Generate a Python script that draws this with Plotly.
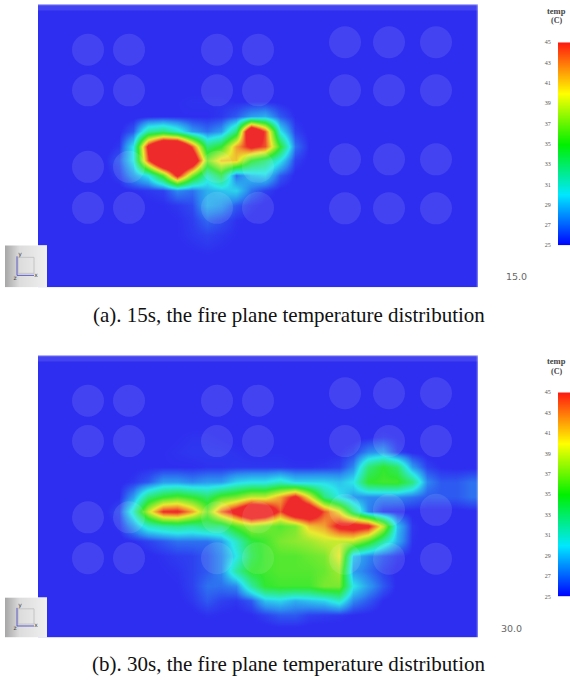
import plotly.graph_objects as go

W, H = 570, 680

# Values above 45 sit in the clipped red zone of the scale.
temp_15s = [
 [25.4]*30,
 [25.4]*30,
 [25.4]*30,
 [25.4]*30,
 [25.4]*30,
 [25.4,25.4,25.4,25.4,25.4,25.4,25.4,25.4,25.4,25.5,25.5,25.5,25.5,25.4,25.4,25.4,25.4,25.4,25.4,25.4,25.4,25.4,25.4,25.4,25.4,25.4,25.4,25.4,25.4,25.4],
 [25.4,25.4,25.4,25.4,25.4,25.4,25.4,25.4,25.5,25.6,25.7,25.7,25.7,25.6,25.6,25.6,25.5,25.4,25.4,25.4,25.4,25.4,25.4,25.4,25.4,25.4,25.4,25.4,25.4,25.4],
 [25.4,25.4,25.4,25.4,25.4,25.4,25.4,25.5,25.6,25.6,25.6,25.6,25.8,26.5,28.0,28.5,26.5,25.6,25.4,25.4,25.4,25.4,25.4,25.4,25.4,25.4,25.4,25.4,25.4,25.4],
 [25.4,25.4,25.4,25.4,25.4,25.5,26.5,32.0,33.0,31.0,28.0,27.0,28.0,33.0,52.0,44.0,30.0,26.0,25.5,25.4,25.4,25.4,25.4,25.4,25.4,25.4,25.4,25.4,25.4,25.4],
 [25.4,25.4,25.4,25.4,25.4,25.8,30.0,46.0,54.0,54.0,44.0,33.0,35.0,42.0,46.0,44.0,35.0,27.0,25.6,25.4,25.4,25.4,25.4,25.4,25.4,25.4,25.4,25.4,25.4,25.4],
 [25.4,25.4,25.4,25.4,25.5,26.5,30.0,44.0,54.0,54.0,50.0,37.0,41.0,41.0,35.0,33.0,30.0,26.0,25.5,25.4,25.4,25.4,25.4,25.4,25.4,25.4,25.4,25.4,25.4,25.4],
 [25.4,25.4,25.4,25.4,25.4,26.0,28.0,30.0,36.0,46.0,37.0,31.0,34.0,27.0,29.0,29.5,26.5,25.5,25.4,25.4,25.4,25.4,25.4,25.4,25.4,25.4,25.4,25.4,25.4,25.4],
 [25.4,25.4,25.4,25.4,25.4,25.4,25.6,25.8,26.0,27.5,27.0,28.5,29.0,29.5,27.0,26.0,25.5,25.4,25.4,25.4,25.4,25.4,25.4,25.4,25.4,25.4,25.4,25.4,25.4,25.4],
 [25.4,25.4,25.4,25.4,25.4,25.4,25.4,25.5,25.6,25.8,26.2,28.5,28.0,26.5,25.8,25.5,25.4,25.4,25.4,25.4,25.4,25.4,25.4,25.4,25.4,25.4,25.4,25.4,25.4,25.4],
 [25.4,25.4,25.4,25.4,25.4,25.4,25.4,25.4,25.5,25.6,25.9,26.8,26.3,25.7,25.5,25.4,25.4,25.4,25.4,25.4,25.4,25.4,25.4,25.4,25.4,25.4,25.4,25.4,25.4,25.4],
 [25.4,25.4,25.4,25.4,25.4,25.4,25.4,25.4,25.4,25.6,25.8,26.0,25.8,25.6,25.4,25.4,25.4,25.4,25.4,25.4,25.4,25.4,25.4,25.4,25.4,25.4,25.4,25.4,25.4,25.4],
 [25.4,25.4,25.4,25.4,25.4,25.4,25.4,25.4,25.4,25.5,25.6,25.7,25.6,25.5,25.4,25.4,25.4,25.4,25.4,25.4,25.4,25.4,25.4,25.4,25.4,25.4,25.4,25.4,25.4,25.4],
 [25.4]*30,
 [25.4]*30,
]

temp_30s = [
 [25.4]*30,
 [25.4]*30,
 [25.4]*30,
 [25.4]*30,
 [25.4,25.4,25.4,25.4,25.4,25.4,25.4,25.4,25.4,25.5,25.5,25.5,25.4,25.4,25.4,25.4,25.4,25.4,25.4,25.4,25.4,25.4,25.4,25.4,25.4,25.4,25.4,25.4,25.4,25.4],
 [25.4,25.4,25.4,25.4,25.4,25.4,25.4,25.4,25.5,25.6,25.7,25.7,25.6,25.5,25.5,25.5,25.5,25.4,25.4,25.4,25.4,25.4,25.5,25.8,25.6,25.4,25.4,25.4,25.4,25.4],
 [25.4,25.4,25.4,25.4,25.4,25.4,25.4,25.5,25.6,25.7,25.8,25.8,25.8,25.7,25.6,25.6,25.6,25.5,25.5,25.5,25.6,26.0,27.5,28.0,26.0,25.5,25.4,25.4,25.4,25.4],
 [25.4,25.4,25.4,25.4,25.4,25.4,25.5,25.6,25.6,25.6,25.6,25.7,25.7,25.8,25.8,25.8,25.8,25.7,25.7,25.8,26.0,27.5,33.0,35.0,33.5,28.0,26.0,25.6,25.5,25.5],
 [25.4,25.4,25.4,25.4,25.4,25.5,25.8,26.5,28.0,28.0,27.5,28.0,28.0,29.5,30.0,30.0,31.0,29.5,29.5,29.5,29.0,30.0,35.0,35.5,35.5,33.0,27.5,26.5,26.5,27.0],
 [25.4,25.4,25.4,25.4,25.4,25.6,28.0,33.0,35.0,36.0,35.0,33.5,36.0,37.0,39.0,39.0,42.0,46.0,40.0,33.0,30.0,28.0,27.5,27.5,27.5,27.0,26.5,26.5,26.5,27.0],
 [25.4,25.4,25.4,25.4,25.5,26.2,31.0,39.0,45.0,45.5,42.0,37.0,43.0,47.0,52.0,50.0,44.0,50.0,50.0,44.0,40.0,33.0,27.5,25.8,25.6,25.5,25.4,25.4,25.4,25.5],
 [25.4,25.4,25.4,25.4,25.4,25.8,28.0,31.0,32.0,32.5,32.0,33.0,33.0,36.0,38.0,37.0,36.0,37.0,41.0,42.0,46.0,47.0,46.0,39.0,29.0,25.8,25.4,25.4,25.4,25.4],
 [25.4,25.4,25.4,25.4,25.4,25.4,25.6,26.0,26.5,27.0,27.0,27.0,28.0,31.0,34.5,35.5,37.0,37.5,38.0,39.0,39.0,39.0,36.0,32.0,28.5,25.7,25.4,25.4,25.4,25.4],
 [25.4,25.4,25.4,25.4,25.4,25.4,25.4,25.5,25.7,25.9,26.0,26.5,27.5,30.0,34.0,35.5,36.0,36.0,36.5,37.0,40.0,29.0,27.5,26.5,25.8,25.5,25.4,25.4,25.4,25.4],
 [25.4,25.4,25.4,25.4,25.4,25.4,25.4,25.5,25.6,25.7,26.0,26.5,27.5,32.0,35.0,35.5,36.0,36.0,36.0,36.5,38.0,28.0,27.0,26.0,25.5,25.4,25.4,25.4,25.4,25.4],
 [25.4,25.4,25.4,25.4,25.4,25.4,25.4,25.4,25.5,25.6,26.0,27.0,27.0,27.5,32.0,35.0,35.5,35.5,35.5,37.0,37.0,30.0,28.0,26.5,25.5,25.4,25.4,25.4,25.4,25.4],
 [25.4,25.4,25.4,25.4,25.4,25.4,25.4,25.4,25.4,25.5,25.8,26.5,26.0,25.8,26.5,29.0,29.5,28.5,29.0,29.5,31.0,27.5,26.5,25.6,25.4,25.4,25.4,25.4,25.4,25.4],
 [25.4,25.4,25.4,25.4,25.4,25.4,25.4,25.4,25.4,25.4,25.5,25.7,25.6,25.5,25.6,26.0,26.5,26.5,26.0,25.9,25.8,25.6,25.5,25.4,25.4,25.4,25.4,25.4,25.4,25.4],
 [25.4]*30,
 [25.4]*30,
]

# Positions on the plane, in pixels of the plane image
grid_x = [7.33, 22.0, 36.67, 51.33, 66.0, 80.67, 95.33, 110.0, 124.67, 139.33, 154.0, 168.67, 183.33, 198.0, 212.67,
          227.33, 242.0, 256.67, 271.33, 286.0, 300.67, 315.33, 330.0, 344.67, 359.33, 374.0, 388.67, 403.33, 418.0, 432.67]
grid_y = [7.45, 22.35, 37.25, 52.15, 67.05, 81.95, 96.85, 111.75, 126.65, 141.55, 156.45, 171.35, 186.25, 201.15,
          216.05, 230.95, 245.85, 260.75, 275.65]

hole_left_x = [50, 91, 179, 220]
hole_left_y = [45.5, 86, 162.5, 203.5]
hole_right_x = [307, 351, 398]
hole_right_y = [38, 86, 155, 204]

bar_temps = [25, 27, 29, 31, 33, 35, 37, 39, 41, 43, 45]
bar_labels = ["25", "27", "29", "31", "33", "35", "37", "39", "41", "43", "45"]
bar_slots = [0, 1]
captions = ["(a). 15s, the fire plane temperature distribution",
            "(b). 30s, the fire plane temperature distribution"]
times = ["15.0", "30.0"]

PLANE_SCALE = [[0, "#2e2ef0"], [0.03, "#2e2ef0"], [0.125, "#2c8af0"], [0.25, "#2ce8ea"], [0.5, "#30e830"],
               [0.75, "#eaea30"], [0.875, "#f29030"], [1, "#ee2a2a"]]
BAR_SCALE = [[0, "#0000ff"], [0.25, "#00e8ff"], [0.5, "#00f000"], [0.75, "#ffff00"], [1, "#ff1a10"]]
GREY_SCALE = [[0, "#a8a8a8"], [0.35, "#dcdcdc"], [1, "#f0f0f0"]]

def fy(y):
    # small correction measured from the rendered page
    return (y - 2.7) / 0.991

def px_x(a, b):
    return [a / W, b / W]

def px_y(a, b):
    return [1 - fy(b) / H, 1 - fy(a) / H]

def label(text, x, y, font):
    return dict(text=text, xref="paper", yref="paper", x=x / W, y=1 - fy(y) / H, xanchor="center", yanchor="middle",
                showarrow=False, font=font)

fig = go.Figure()
layout = dict(width=W, height=H, margin=dict(l=0, r=0, t=0, b=0), autosize=False,
              paper_bgcolor="white", plot_bgcolor="white", showlegend=False)
shapes, annos = [], []
AX_OFF = dict(visible=False, fixedrange=True)

panels = [
    dict(z=temp_15s, top=4, bot=287, bar=(42, 245), box=(245, 287), cap=315, stamp=(516.5, 276), title=(11, 20)),
    dict(z=temp_30s, top=355, bot=637, bar=(392, 596), box=(597, 637), cap=664, stamp=(511, 628), title=(361, 371)),
]

n = 2
for k, p in enumerate(panels):
    a, b, c = n, n + 1, n + 2
    n += 3
    # plane
    layout[f"xaxis{a}"] = dict(domain=px_x(38, 478), range=[0, 440], anchor=f"y{a}", **AX_OFF)
    layout[f"yaxis{a}"] = dict(domain=px_y(p["top"], p["bot"]), range=[283, 0], anchor=f"x{a}", **AX_OFF)
    fig.add_trace(go.Heatmap(z=p["z"], x=grid_x, y=grid_y, zmin=25, zmax=45, zsmooth="best",
                             colorscale=PLANE_SCALE, showscale=False, hoverinfo="skip",
                             xaxis=f"x{a}", yaxis=f"y{a}"))
    for xs, ys in ((hole_left_x, hole_left_y), (hole_right_x, hole_right_y)):
        hx = [x for _ in ys for x in xs]
        hy = [y for y in ys for _ in xs]
        fig.add_trace(go.Scatter(x=hx, y=hy, mode="markers", hoverinfo="skip",
                                 marker=dict(size=32, color="rgba(255,255,255,0.10)", line=dict(width=0)),
                                 xaxis=f"x{a}", yaxis=f"y{a}"))
    shapes.append(dict(type="rect", xref=f"x{a} domain", yref=f"y{a} domain", x0=0, x1=1, y0=0.978, y1=1,
                       fillcolor="rgba(255,255,255,0.10)", line=dict(width=0)))
    shapes.append(dict(type="rect", xref=f"x{a} domain", yref=f"y{a} domain", x0=0, x1=1, y0=0.996, y1=1,
                       fillcolor="rgba(255,255,255,0.25)", line=dict(width=0)))
    shapes.append(dict(type="rect", xref=f"x{a} domain", yref=f"y{a} domain", x0=0.997, x1=1, y0=0, y1=1,
                       fillcolor="rgba(255,255,255,0.35)", line=dict(width=0)))
    # temperature bar
    layout[f"xaxis{b}"] = dict(domain=px_x(558, 570), range=[0, 1], anchor=f"y{b}", **AX_OFF)
    layout[f"yaxis{b}"] = dict(domain=px_y(*p["bar"]), range=[25, 45], anchor=f"x{b}", fixedrange=True,
                               tickmode="array", tickvals=bar_temps, ticktext=bar_labels,
                               ticks="outside", ticklen=5, tickcolor="rgba(0,0,0,0)",
                               showgrid=False, zeroline=False, showline=False,
                               tickfont=dict(family="Liberation Serif", size=6, color="#555555"))
    fig.add_trace(go.Heatmap(z=[[t, t] for t in bar_temps], x=bar_slots, y=bar_temps, zmin=25, zmax=45,
                             zsmooth="best", colorscale=BAR_SCALE, showscale=False, hoverinfo="skip",
                             xaxis=f"x{b}", yaxis=f"y{b}"))
    annos.append(label("<b>temp</b>", 556, p["title"][0], dict(family="Liberation Serif", size=8.5, color="#444444")))
    annos.append(label("<b>(C)</b>", 556, p["title"][1], dict(family="Liberation Serif", size=8, color="#444444")))
    # orientation box
    layout[f"xaxis{c}"] = dict(domain=px_x(5, 47), range=[0, 42], anchor=f"y{c}", **AX_OFF)
    layout[f"yaxis{c}"] = dict(domain=px_y(*p["box"]), range=[42, 0], anchor=f"x{c}", **AX_OFF)
    fig.add_trace(go.Heatmap(z=[[0, 0.35, 1], [0, 0.35, 1]], x=[0, 14, 42], y=[0, 42], zmin=0, zmax=1,
                             zsmooth="best", colorscale=GREY_SCALE, showscale=False, hoverinfo="skip",
                             xaxis=f"x{c}", yaxis=f"y{c}"))
    fig.add_trace(go.Scatter(x=[13, 29, 29, 13, 13], y=[12, 12, 28, 28, 12], mode="lines", hoverinfo="skip",
                             line=dict(color="#c4c4c4", width=1), xaxis=f"x{c}", yaxis=f"y{c}"))
    fig.add_trace(go.Scatter(x=[12, 12, 29], y=[11, 30, 30], mode="lines", hoverinfo="skip",
                             line=dict(color="#5a5ac8", width=1), xaxis=f"x{c}", yaxis=f"y{c}"))
    fig.add_trace(go.Scatter(x=[15, 31, 10], y=[9, 30, 33], mode="text", text=["y", "x", "z"], hoverinfo="skip",
                             textposition="middle center",
                             textfont=dict(family="DejaVu Sans", size=6, color="#444444"),
                             xaxis=f"x{c}", yaxis=f"y{c}"))
    # captions
    annos.append(label(captions[k], 289, p["cap"], dict(family="Liberation Serif", size=21, color="#111111")))
    annos.append(label(times[k], p["stamp"][0], p["stamp"][1], dict(family="DejaVu Sans", size=9.5, color="#666666")))

layout["shapes"] = shapes
layout["annotations"] = annos
fig.update_layout(**layout)
fig.write_html("out.html", config=dict(displayModeBar=False),
               post_script="document.body.style.margin='0';")
